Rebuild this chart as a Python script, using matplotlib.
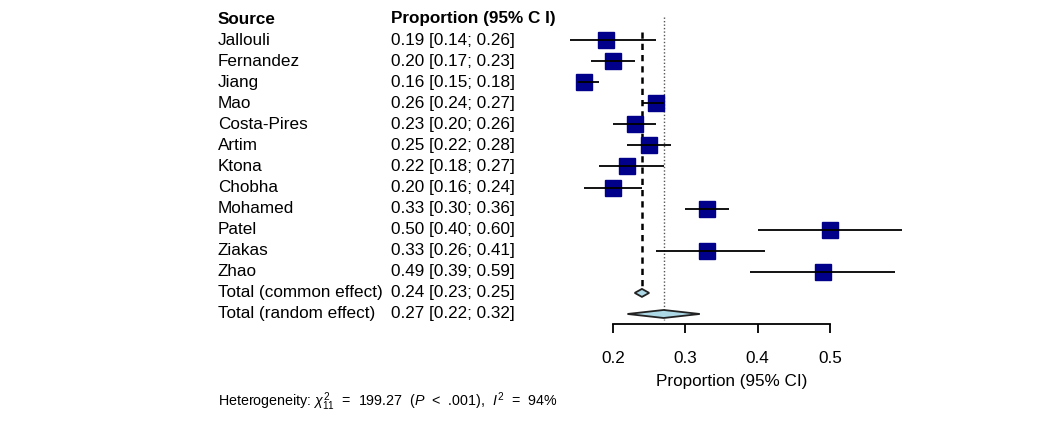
import numpy as np
import matplotlib.pyplot as plt

plt.rcParams['font.family'] = ['Liberation Sans', 'DejaVu Sans']
plt.rcParams['mathtext.fontset'] = 'custom'
plt.rcParams['mathtext.rm'] = 'Liberation Sans'
plt.rcParams['mathtext.it'] = 'Liberation Sans:italic'

# study data
studies = ['Jallouli', 'Fernandez', 'Jiang', 'Mao', 'Costa-Pires', 'Artim',
           'Ktona', 'Chobha', 'Mohamed', 'Patel', 'Ziakas', 'Zhao']
prop = [0.19, 0.20, 0.16, 0.26, 0.23, 0.25, 0.22, 0.20, 0.33, 0.50, 0.33, 0.49]
lower = [0.14, 0.17, 0.15, 0.24, 0.20, 0.22, 0.18, 0.16, 0.30, 0.40, 0.26, 0.39]
upper = [0.26, 0.23, 0.18, 0.27, 0.26, 0.28, 0.27, 0.24, 0.36, 0.60, 0.41, 0.59]

pooled_names = ['Total (common effect)', 'Total (random effect)']
pooled_est = [0.24, 0.27]
pooled_lo = [0.23, 0.22]
pooled_hi = [0.25, 0.32]

xticks = [0.2, 0.3, 0.4, 0.5]

# figure is 1048x442 px, one axes over the whole thing
W, H = 1048, 442
px_x0, px_per = 613.0, 723.3      # pixel of x=0.2, pixels per unit
row0, row_h = 19.0, 21.07         # pixel of header row, row height

fig = plt.figure(figsize=(W / 100, H / 100), dpi=100)
ax = fig.add_axes([0, 0, 1, 1])
ax.set_xlim(0.2 - px_x0 / px_per, 0.2 + (W - px_x0) / px_per)
ax.set_ylim((H - row0) / row_h, -row0 / row_h)

def fx(px):
    return 0.2 + (px - px_x0) / px_per

def fy(py):
    return (py - row0) / row_h

fs = 12.3
col1, col2 = fx(218), fx(391)

# header
ax.text(col1, 0, 'Source', fontsize=fs, fontweight='bold', va='center')
ax.text(col2, 0, 'Proportion (95% C I)', fontsize=fs, fontweight='bold', va='center')

rows = np.arange(1, len(studies) + 1)
for r, name, p, lo, hi in zip(rows, studies, prop, lower, upper):
    ax.text(col1, r, name, fontsize=fs, va='center')
    ax.text(col2, r, f'{p:.2f} [{lo:.2f}; {hi:.2f}]', fontsize=fs, va='center')

# reference lines
ax.plot([pooled_est[0]] * 2, [0.6, 12.75], color='black', lw=1.8,
        ls=(0, (2.5, 2)), zorder=1)
ax.plot([pooled_est[1]] * 2, [-0.1, 14.3], color='#555555', lw=1.0,
        ls=(0, (1, 1.5)), zorder=1)

# squares and CIs
ax.plot(prop, rows, 's', color='#00008B', markersize=11.8, zorder=2)
ax.hlines(rows, lower, upper, color='black', lw=1.3, zorder=3)

# pooled diamonds
prow = np.arange(len(studies) + 1, len(studies) + 3)
for r, name, e, lo, hi in zip(prow, pooled_names, pooled_est, pooled_lo, pooled_hi):
    ax.text(col1, r, name, fontsize=fs, va='center')
    ax.text(col2, r, f'{e:.2f} [{lo:.2f}; {hi:.2f}]', fontsize=fs, va='center')
    hh = 0.19
    ax.fill([lo, e, hi, e], [r, r - hh, r, r + hh], facecolor='#ADD8E6',
            edgecolor='#222222', lw=1.3, zorder=4)

# x axis
ax.spines[['top', 'right', 'left']].set_visible(False)
ax.spines['bottom'].set_position(('data', fy(324)))
ax.spines['bottom'].set_bounds(xticks[0], xticks[-1])
ax.spines['bottom'].set_linewidth(1.3)
ax.set_xticks(xticks)
ax.set_xticklabels([f'{t:.1f}' for t in xticks], fontsize=fs)
ax.tick_params(axis='x', length=6.5, width=1.3, pad=13)
ax.set_yticks([])
ax.text(fx(732), fy(381), 'Proportion (95% CI)',
        fontsize=fs, ha='center', va='center')

# heterogeneity
ax.text(col1, fy(402),
        r'Heterogeneity: $\chi^2_{11}$  =  199.27  ($P$  <  .001),  $I^2$  =  94%',
        fontsize=10.3, va='center')

fig.savefig('out.png', dpi=100)
